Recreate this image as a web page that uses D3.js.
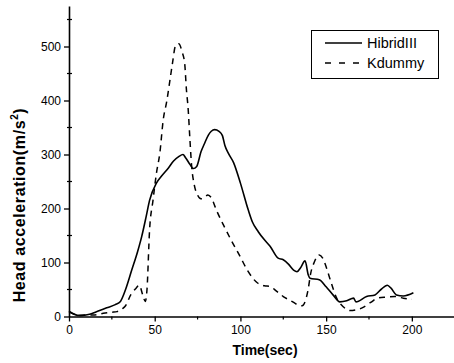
<!DOCTYPE html>
<html>
<head>
<meta charset="utf-8">
<script src="https://cdn.jsdelivr.net/npm/d3@7/dist/d3.min.js"></script>
<style>
    body { margin: 0; background: #fff; }
    svg { display: block; font-family: Arial, "Liberation Sans", sans-serif; }
</style>
</head>
<body>
<svg id="chart" width="454" height="363"></svg>
<script>
"use strict";

// values: [time (sec), head acceleration (m/s2)]
var hibridIII = [
    [0, 10], [2, 6], [5, 2], [8, 2], [12, 4], [16, 9], [22, 16], [27, 22], [30, 28],
    [33, 50], [36.6, 86], [40, 120], [42.4, 148], [45, 185], [47, 215], [51, 247],
    [54, 260], [58, 275], [61, 288], [64, 296], [66.5, 300], [68, 294], [70.5, 282],
    [72.5, 274], [74.5, 278], [77, 305], [79, 320], [81.3, 336], [83, 343], [85, 346],
    [87.5, 343], [89.5, 335], [91, 316], [93, 302], [96, 285], [100, 247], [104.6, 197],
    [107, 175], [110.4, 157], [114, 142], [117.3, 130], [122, 108], [125, 105], [128, 97],
    [131, 86], [133, 83], [135, 90], [137.7, 103], [139.6, 77], [140.6, 71], [146, 68],
    [150, 55], [154, 40], [158, 27], [162, 29], [166, 34], [167.4, 27], [173.6, 37],
    [178.5, 40], [182, 50], [185.7, 58], [188, 52], [191, 40], [195, 38], [200.9, 44]
];

var kdummy = [
    [0, 8], [3, 4], [6, 2], [10, 3], [15, 3], [20, 6], [25, 8], [28, 9], [31, 14],
    [33, 20], [36, 40], [39, 52], [41, 58], [43, 40], [44.5, 28], [45.5, 50], [47, 160],
    [49, 215], [51, 265], [53, 303], [55, 365], [57, 398], [59, 440], [60.5, 472],
    [62, 500], [64, 505], [66, 490], [67.5, 468], [68.5, 420], [69.5, 385], [70.5, 330],
    [71.5, 280], [73, 245], [75, 225], [77, 218], [79, 220], [81, 225], [83, 220],
    [86, 197], [90, 170], [95, 139], [100, 110], [104, 86], [110, 62], [114, 57],
    [117, 56], [121, 47], [125, 37], [130, 28], [134, 21], [136, 20], [138, 30],
    [139.5, 50], [141, 80], [143, 100], [146, 114], [148, 108], [150, 92], [153, 62],
    [156, 35], [160, 18], [164, 11], [167, 12], [171, 16], [176, 26], [180, 34],
    [185, 36], [190, 37], [195, 34], [200, 32]
];

var xTicks = [0, 50, 100, 150, 200];
var xMinorTicks = [25, 75, 125, 175];
var yTicks = [0, 100, 200, 300, 400, 500];
var yMinorTicks = [50, 150, 250, 350, 450, 550];

var seriesNames = ["HibridIII", "Kdummy"];

var svg = d3.select("#chart");

var x = d3.scaleLinear().domain([0, 225]).range([69, 454.7]);
var y = d3.scaleLinear().domain([0, 575]).range([316.5, 6]);

// x axis
var xAxis = svg.append("g")
    .attr("transform", "translate(0," + y(0) + ")")
    .call(d3.axisBottom(x).tickValues(xTicks).tickSize(5).tickPadding(4).tickSizeOuter(0));
xAxis.selectAll(".minor")
    .data(xMinorTicks)
    .enter().append("line")
    .attr("class", "minor")
    .attr("x1", function (d) { return x(d); })
    .attr("x2", function (d) { return x(d); })
    .attr("y1", 0)
    .attr("y2", 3)
    .attr("stroke", "#000")
    .attr("stroke-width", 1.2);

// y axis
var yAxis = svg.append("g")
    .attr("transform", "translate(" + x(0) + ",0)")
    .call(d3.axisLeft(y).tickValues(yTicks).tickSize(5).tickPadding(3).tickSizeOuter(0));
yAxis.selectAll(".minor")
    .data(yMinorTicks)
    .enter().append("line")
    .attr("class", "minor")
    .attr("x1", -2)
    .attr("x2", 3)
    .attr("y1", function (d) { return y(d); })
    .attr("y2", function (d) { return y(d); })
    .attr("stroke", "#000")
    .attr("stroke-width", 1.2);

svg.selectAll(".domain").attr("stroke", "#000").attr("stroke-width", 1.6);
svg.selectAll(".tick line").attr("stroke", "#000").attr("stroke-width", 1.3);
svg.selectAll(".tick text")
    .attr("font-size", 12)
    .attr("font-family", "Arial, 'Liberation Sans', sans-serif")
    .attr("fill", "#000");

// axis titles
svg.append("text")
    .attr("x", 265)
    .attr("y", 355)
    .attr("text-anchor", "middle")
    .attr("font-size", 14)
    .attr("font-weight", "bold")
    .text("Time(sec)");

var yTitle = svg.append("text")
    .attr("transform", "translate(25,205) rotate(-90)")
    .attr("text-anchor", "middle")
    .attr("font-size", 16)
    .attr("letter-spacing", 0.6)
    .attr("font-weight", "bold");
yTitle.append("tspan").text("Head acceleration(m/s");
yTitle.append("tspan").attr("font-size", 10).attr("dy", -7).text("2");
yTitle.append("tspan").attr("dy", 7).text(")");

// curves
var line = d3.line()
    .x(function (d) { return x(d[0]); })
    .y(function (d) { return y(d[1]); })
    .curve(d3.curveMonotoneX);

svg.append("path")
    .datum(kdummy)
    .attr("d", line)
    .attr("fill", "none")
    .attr("stroke", "#000")
    .attr("stroke-width", 1.5)
    .attr("stroke-dasharray", "6,5");

svg.append("path")
    .datum(hibridIII)
    .attr("d", line)
    .attr("fill", "none")
    .attr("stroke", "#000")
    .attr("stroke-width", 1.6);

// legend
var legend = svg.append("g");
legend.append("rect")
    .attr("x", 311.5)
    .attr("y", 30.5)
    .attr("width", 127)
    .attr("height", 48)
    .attr("fill", "#fff")
    .attr("stroke", "#000")
    .attr("stroke-width", 1);

var entry = legend.selectAll(".legend-entry")
    .data(seriesNames)
    .enter().append("g")
    .attr("class", "legend-entry")
    .attr("transform", function (d, i) { return "translate(0," + (43 + i * 20) + ")"; });

entry.append("line")
    .attr("x1", 325)
    .attr("x2", 362)
    .attr("stroke", "#000")
    .attr("stroke-width", 1.5)
    .attr("stroke-dasharray", function (d, i) { return i === 1 ? "6,8" : null; });

entry.append("text")
    .attr("x", 367)
    .attr("y", 5)
    .attr("font-size", 14.5)
    .text(function (d) { return d; });
</script>
</body>
</html>
